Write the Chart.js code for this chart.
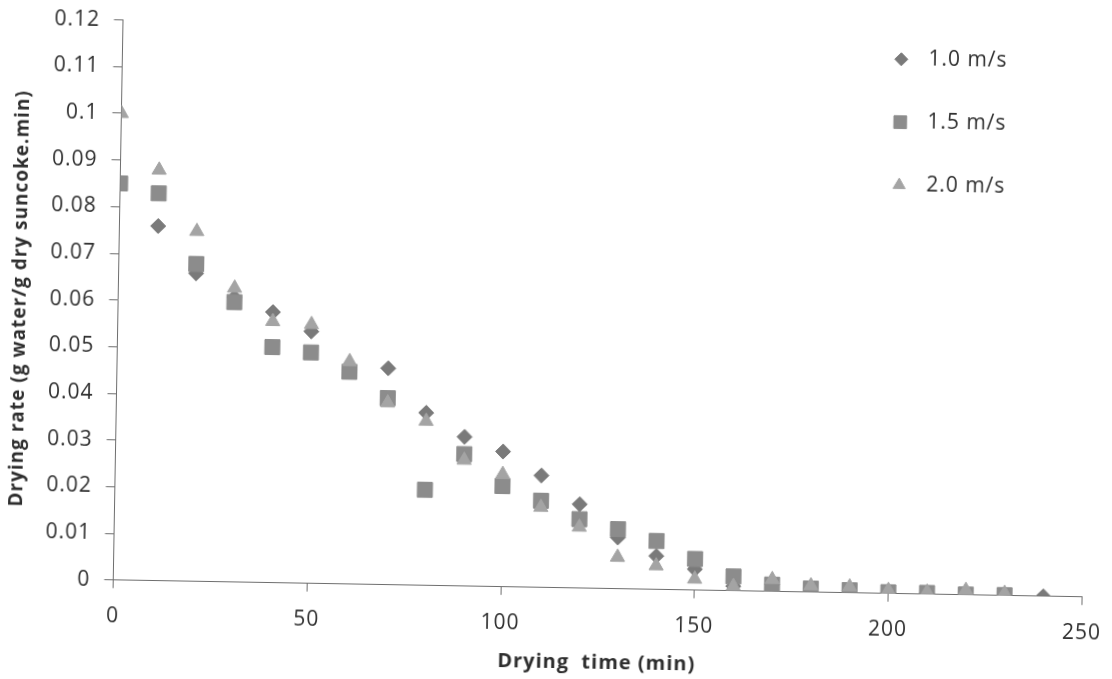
<!DOCTYPE html>
<html>
<head>
<meta charset="utf-8">
<script src="https://cdn.jsdelivr.net/npm/chart.js@4"></script>
<style>
  html, body { margin: 0; padding: 0; background: #ffffff; overflow: hidden; }
  #wrap { width: 1112px; height: 679px; transform: rotate(1deg); transform-origin: 556px 339.5px; }
  canvas { display: block; }
</style>
</head>
<body>
<div id="wrap"><canvas id="c" width="1112" height="679"></canvas></div>
<script>
// Drying time (min)
const timeMin = [0, 10, 20, 30, 40, 50, 60, 70, 80, 90, 100, 110, 120, 130, 140, 150, 160, 170, 180, 190, 200, 210, 220, 230, 240];
// Drying rate (g water/g dry suncoke.min)
const rate10 = [0.085, 0.076, 0.066, 0.061, 0.058, 0.054, 0.046, 0.0464, 0.037, 0.032, 0.029, 0.024, 0.018, 0.011, 0.0072, 0.0045, 0.001, 0.0015, 0.0008, 0.0005, 0.0002, 0.0002, 0.0001, 0.0001, 0.0];
const rate15 = [0.085, 0.083, 0.068, 0.060, 0.0505, 0.0495, 0.0455, 0.040, 0.0205, 0.0283, 0.0216, 0.0186, 0.0148, 0.0128, 0.0104, 0.0067, 0.0031, 0.0015, 0.0008, 0.0006, 0.0003, 0.0003, 0.0001, 0.0001];
const rate20 = [0.100, 0.088, 0.075, 0.063, 0.056, 0.0555, 0.0477, 0.039, 0.0352, 0.027, 0.0241, 0.0172, 0.0131, 0.0068, 0.0051, 0.0024, 0.001, 0.0026, 0.0014, 0.0013, 0.0007, 0.0005, 0.001, 0.0005];
const seriesNames = ['1.0 m/s', '1.5 m/s', '2.0 m/s'];
const xTicks = [0, 50, 100, 150, 200, 250];
const xTickLabels = ['0', '50', '100', '150', '200', '250'];
const yTicks = [0, 0.01, 0.02, 0.03, 0.04, 0.05, 0.06, 0.07, 0.08, 0.09, 0.1, 0.11, 0.12];
const yTickLabels = ['0', '0.01', '0.02', '0.03', '0.04', '0.05', '0.06', '0.07', '0.08', '0.09', '0.1', '0.11', '0.12'];

const toPoints = (arr) => arr.map((v, i) => ({ x: timeMin[i], y: v }));

const spacingPlugin = {
  id: 'spacing',
  beforeUpdate(chart) { chart.ctx.letterSpacing = '1px'; },
  beforeDraw(chart) { chart.ctx.letterSpacing = '1px'; }
};

const legendPlugin = {
  id: 'sideLegend',
  afterDatasetsDraw(chart) {
    const ctx = chart.ctx;
    const area = chart.chartArea;
    const x0 = area.right - 190;
    const y0 = area.top + 25.7;
    const gap = 62.9;
    ctx.save();
    chart.data.datasets.forEach((ds, i) => {
      const y = y0 + i * gap;
      ctx.fillStyle = ds.backgroundColor;
      ctx.strokeStyle = ds.borderColor;
      ctx.lineWidth = 1;
      Chart.helpers.drawPoint(ctx, {
        pointStyle: ds.pointStyle,
        radius: ds.legendRadius,
        borderWidth: 1,
        rotation: 0
      }, x0, y);
      ctx.fillStyle = '#2e2e2e';
      ctx.font = '21px "Open Sans"';
      ctx.textBaseline = 'middle';
      ctx.textAlign = 'left';
      ctx.fillText(ds.label, x0 + 27, y);
    });
    ctx.restore();
  }
};

new Chart(document.getElementById('c'), {
  type: 'scatter',
  data: {
    datasets: [
      { label: seriesNames[0], data: toPoints(rate10), pointStyle: 'rectRot', pointRadius: 7.5, legendRadius: 6.5,
        backgroundColor: '#7a7a7a', borderColor: '#7a7a7a', borderWidth: 1, order: 3 },
      { label: seriesNames[1], data: toPoints(rate15), pointStyle: 'rect', pointRadius: 10.6, legendRadius: 9,
        backgroundColor: '#8c8c8c', borderColor: '#8c8c8c', borderWidth: 1, order: 2 },
      { label: seriesNames[2], data: toPoints(rate20), pointStyle: 'triangle', pointRadius: 8.2, legendRadius: 7,
        backgroundColor: '#a4a4a4', borderColor: '#a4a4a4', borderWidth: 1, order: 1 }
    ]
  },
  options: {
    responsive: false,
    devicePixelRatio: 1,
    animation: false,
    events: [],
    layout: { padding: { left: 0, right: 25.6, top: 27.6, bottom: 0 } },
    plugins: { legend: { display: false }, tooltip: { enabled: false } },
    scales: {
      x: {
        type: 'linear',
        min: 0, max: 250,
        afterBuildTicks: (s) => { s.ticks = xTicks.map(v => ({ value: v })); },
        afterFit: (s) => { s.height = 91.2; s.paddingLeft = 0; s.paddingRight = 0; },
        ticks: {
          autoSkip: false, maxRotation: 0, padding: 16,
          color: '#2e2e2e', font: { family: '"Open Sans"', size: 21 },
          callback: (v, i) => xTickLabels[i]
        },
        grid: { drawOnChartArea: false, drawTicks: true, tickLength: 8, color: '#6e6e6e', lineWidth: 1 },
        border: { display: true, color: '#6e6e6e', width: 1 },
        title: {
          display: true, text: 'Drying  time (min)', color: '#2e2e2e',
          font: { family: '"Open Sans"', size: 20, weight: 'bold' },
          padding: { top: 0, bottom: 5 }
        }
      },
      y: {
        type: 'linear',
        min: 0, max: 0.12,
        afterBuildTicks: (s) => { s.ticks = yTicks.map(v => ({ value: v })); },
        afterFit: (s) => { s.width = 117.5; s.paddingTop = 0; s.paddingBottom = 0; },
        ticks: {
          autoSkip: false, padding: 14,
          color: '#2e2e2e', font: { family: '"Open Sans"', size: 21 },
          callback: (v, i) => yTickLabels[i]
        },
        grid: { drawOnChartArea: false, drawTicks: true, tickLength: 9, color: '#6e6e6e', lineWidth: 1 },
        border: { display: true, color: '#6e6e6e', width: 1 },
        title: {
          display: true, text: 'Drying rate (g water/g dry suncoke.min)', color: '#2e2e2e',
          font: { family: '"Open Sans"', size: 19, weight: 'bold' },
          padding: { top: 8, bottom: 0 }
        }
      }
    }
  },
  plugins: [spacingPlugin, legendPlugin]
});
</script>
</body>
</html>
